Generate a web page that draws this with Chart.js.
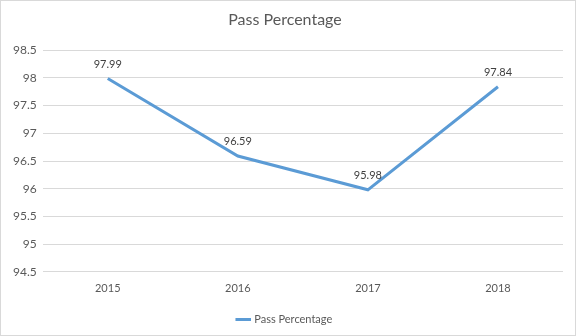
<!DOCTYPE html>
<html>
<head>
<meta charset="utf-8">
<script src="https://cdn.jsdelivr.net/npm/chart.js@4"></script>
<style>
  html, body { margin: 0; padding: 0; background: #fff; }
  #wrap { width: 574px; height: 334px; border: 1px solid #d9d9d9; }
</style>
</head>
<body>
<div id="wrap"><canvas id="c" width="574" height="334"></canvas></div>
<script>
const years = ['2015', '2016', '2017', '2018'];
const passPct = [97.99, 96.59, 95.98, 97.84];
const seriesName = 'Pass Percentage';
const yMin = 94.5, yMax = 98.5, yStep = 0.5;

const txt = '#595959';
const fontFam = 'Lato, "Noto Sans", sans-serif';

// labels above each point, like the spreadsheet data labels
const pointLabels = {
  id: 'pointLabels',
  afterDatasetsDraw(chart) {
    const c = chart.ctx;
    const meta = chart.getDatasetMeta(0);
    c.save();
    c.font = '11px ' + fontFam;
    c.fillStyle = '#404040';
    c.textAlign = 'center';
    c.textBaseline = 'bottom';
    meta.data.forEach((pt, i) => {
      c.fillText(passPct[i].toFixed(2), pt.x, pt.y - 9);
    });
    c.restore();
  }
};

new Chart(document.getElementById('c'), {
  type: 'line',
  data: {
    labels: years,
    datasets: [{
      label: seriesName,
      data: passPct,
      borderColor: '#5b9bd5',
      backgroundColor: '#5b9bd5',
      borderWidth: 3,
      pointRadius: 0,
      tension: 0,
      fill: false
    }]
  },
  options: {
    responsive: false,
    animation: false,
    layout: { padding: { left: 6, right: 12, top: 0, bottom: 0 } },
    plugins: {
      title: {
        display: true,
        text: 'Pass Percentage',
        color: txt,
        font: { family: fontFam, size: 16, weight: 'normal' },
        padding: { top: 9, bottom: 21 }
      },
      legend: {
        position: 'bottom',
        labels: {
          color: txt,
          font: { family: fontFam, size: 11 },
          usePointStyle: true,
          pointStyle: 'line',
          boxWidth: 26,
          padding: 7
        }
      },
      tooltip: { enabled: false }
    },
    scales: {
      x: {
        offset: true,
        grid: { display: false },
        border: { display: false },
        ticks: { color: txt, font: { family: fontFam, size: 11 }, padding: 2 },
        afterFit: s => { s.height += 10; }
      },
      y: {
        min: yMin,
        max: yMax,
        ticks: {
          stepSize: yStep,
          color: txt,
          font: { family: fontFam, size: 12 },
          padding: 6,
          callback: v => String(+v.toFixed(1))
        },
        grid: { color: '#d9d9d9', drawTicks: false },
        border: { display: false }
      }
    }
  },
  plugins: [pointLabels]
});
</script>
</body>
</html>
